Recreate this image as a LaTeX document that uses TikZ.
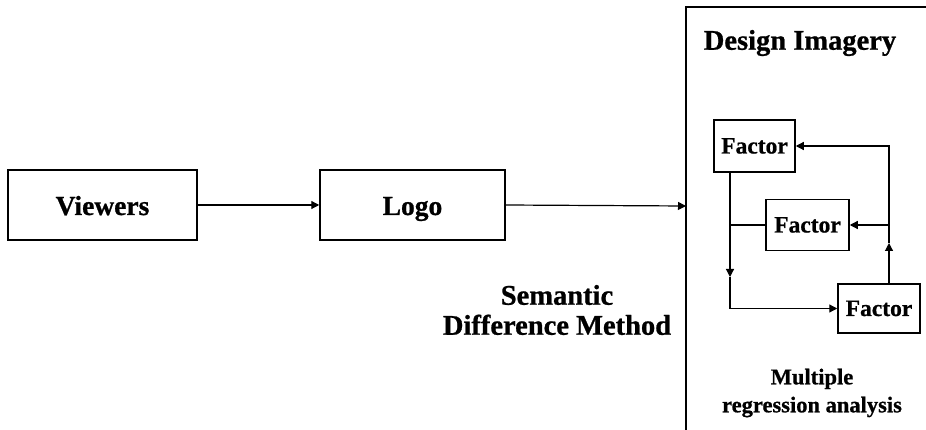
\documentclass[tikz,border=0pt]{standalone}
\usepackage{fontspec}
\setmainfont{Liberation Serif}[BoldFeatures={FakeBold=0.8}]
\usetikzlibrary{arrows.meta}
\begin{document}
\begin{tikzpicture}[x=1pt,y=-1pt,
  box/.style={draw,line width=1.5pt,minimum width=#1,inner sep=0pt,text depth=0pt},
  bigbox/.style={box=#1,minimum height=70pt,text height=20pt,font=\fontsize{27.5}{28}\selectfont\bfseries},
  factorbox/.style={box=#1,text height=15pt,font=\fontsize{23.5}{25}\selectfont\bfseries},
  lbl/.style={align=center,inner sep=0pt},
  conn/.style={line width=1.2pt},
  arr/.style={conn,-{Triangle[length=8pt,width=8pt]}}]
\useasboundingbox (0,0) rectangle (926,430);
% left flow
\node[bigbox=189pt] (viewers) at (102.5,205) {Viewers};
\node[bigbox=185pt] (logo) at (412.5,205) {Logo};
% panel
\coordinate (ptop) at (686,7);
\coordinate (pbot) at (686,430);
\coordinate (pright) at (926,7);
\coordinate (pin) at (686,206);
\draw[line width=1.5pt] (pbot) -- (ptop) -- (pright);
\draw[arr] (viewers.east) -- (logo.west);
\draw[arr] (logo.east) -- (pin);
\node[lbl,font=\fontsize{28.5}{30}\selectfont\bfseries] (semantic) at (557,310) {Semantic\\Difference Method};
\node[lbl,font=\fontsize{28.5}{30}\selectfont\bfseries] (design) at (800,43) {Design Imagery};
\node[lbl,font=\fontsize{22.5}{28}\selectfont\bfseries] (multiple) at (812,393) {Multiple\\regression analysis};
% factors
\node[factorbox=81pt,minimum height=52pt] (f1) at (754.5,146) {Factor};
\node[factorbox=83pt,minimum height=51pt] (f2) at (807.5,225) {Factor};
\node[factorbox=82pt,minimum height=49pt] (f3) at (879,308.5) {Factor};
\coordinate (lx) at (730,228);
\coordinate (rx) at (889,146);
\coordinate (dn) at (730,277);
\coordinate (up) at (889,243);
% left loop
\draw[arr] (f1.south -| lx) -- (dn);
\draw[arr] (dn) -- (lx |- f3.west) -- (f3.west);
\draw[conn] (f2.west) -- (f2.west -| lx);
% right loop
\draw[arr] (rx |- f3.north) -- (up);
\draw[arr] (up) -- (rx) -- (f1.east);
\draw[arr] (f2.east -| rx) -- (f2.east);
\end{tikzpicture}
\end{document}
